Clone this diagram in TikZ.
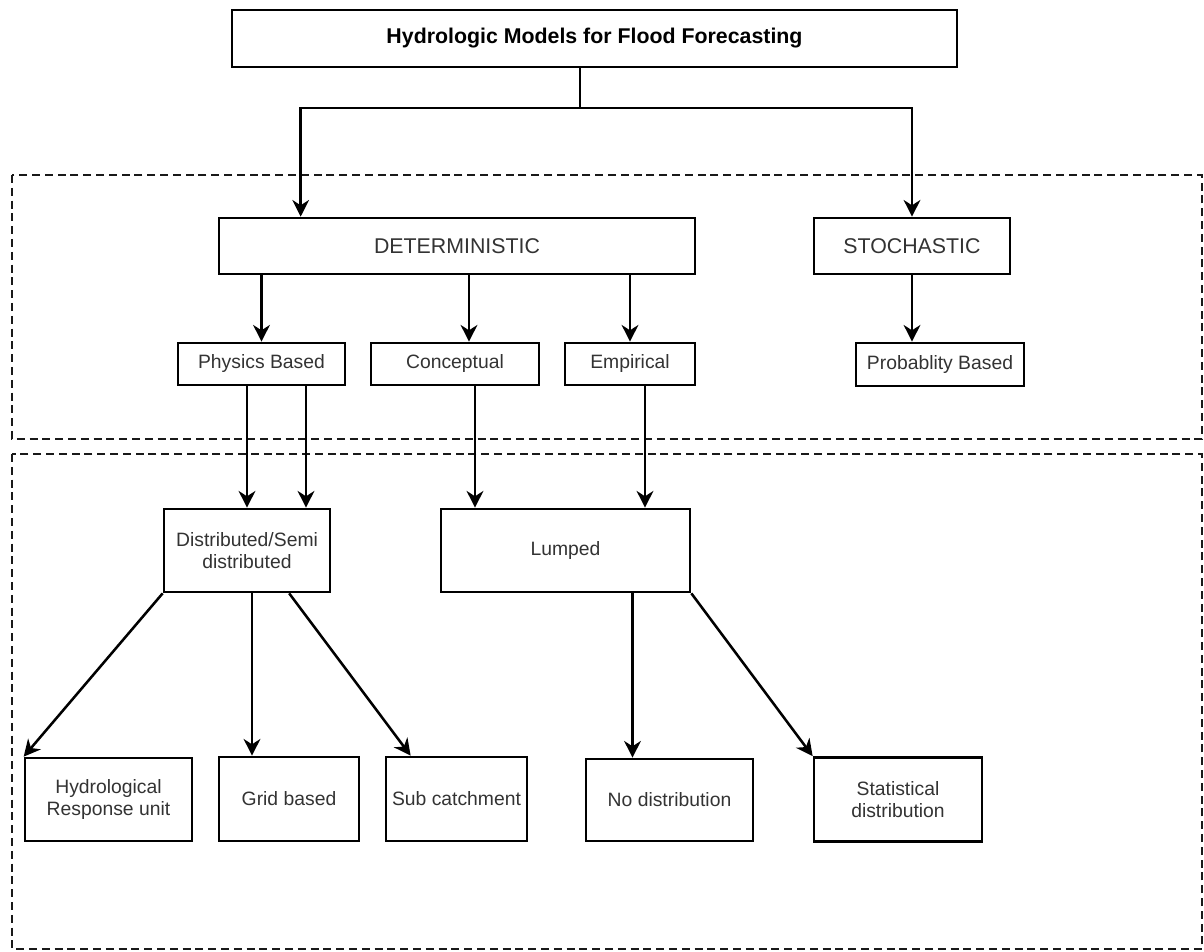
\documentclass[tikz,border=0pt]{standalone}
\usepackage{fontspec}
\setmainfont{Liberation Sans}
\usepackage{xcolor}
\usetikzlibrary{arrows.meta, calc, positioning}
\definecolor{txtgray}{HTML}{333333}

\tikzset{
  box/.style={draw, line width=2pt, fill=white, text=txtgray, align=center,
              inner sep=0pt, font=\fontsize{14.5}{17}\selectfont},
  wh/.style 2 args={minimum width=#1*0.75pt, minimum height=#2*0.75pt},
  arr/.style={-{Stealth[length=12.5pt,width=12.5pt,inset=4pt]}, line width=1.9pt},
  zone/.style={dash pattern=on 6pt off 3.6pt, line width=2pt, draw=black!90},
}

\begin{document}
\begin{tikzpicture}[x=0.75pt, y=-0.75pt]
\useasboundingbox (0,0) rectangle (1204,952);
%
\draw[zone] (12,175) rectangle (1202,439);
\draw[zone] (12,454) rectangle (1202,949);
%
\node[box, wh={725}{57}, text=black, font=\bfseries\fontsize{16}{19}\selectfont] (title) at (594.5,38.5) {Hydrologic Models for Flood Forecasting};
\node[box, wh={476}{56}, font=\fontsize{16}{19}\selectfont] (det) at (457,246) {DETERMINISTIC};
\node[box, wh={196}{56}, font=\fontsize{16}{19}\selectfont] (sto) at (912,246) {STOCHASTIC};
\node[box, wh={167}{42}] (phys) at (261.5,364) {Physics Based};
\node[box, wh={168}{42}] (concept) at (455,364) {Conceptual};
\node[box, wh={130}{42}] (emp) at (630,364) {Empirical};
\node[box, wh={168}{43}] (prob) at (940,364.5) {Probablity Based};
\node[box, wh={166}{83}] (dist) at (247,550.5) {Distributed/Semi\\distributed};
\node[box, wh={249}{83}] (lump) at (565.5,550.5) {Lumped};
\node[box, wh={167}{83}] (hru) at (108.5,799.5) {Hydrological\\Response unit};
\node[box, wh={140}{84}] (grid) at (289,799) {Grid based};
\node[box, wh={141}{84}] (sub) at (456.5,799) {Sub catchment};
\node[box, wh={167}{82}] (nodist) at (669.5,800) {No distribution};
\node[box, wh={168}{84}] (stat) at (898,799.5) {Statistical\\distribution};
%
\coordinate (split) at (580,108);
\coordinate (c1) at ($(concept.south)+(20,0)$);
\coordinate (e1) at ($(emp.south)+(15,0)$);
\coordinate (p1) at ($(phys.south -| dist.north)+(59,0)$);
\coordinate (l1) at ($(lump.south)+(67,0)$);
\coordinate (d1) at ($(dist.south)+(5,0)$);
%
\draw[arr] (title.south -| split) -- (split) -| ($(det.north west)+(83,0)$);
\draw[arr] (split) -| (sto.north);
\draw[arr] (det.south -| phys.north) -- (phys.north);
\draw[arr] ($(det.south -| concept.north)+(14,0)$) -- ($(concept.north)+(14,0)$);
\draw[arr] (det.south -| emp.north) -- (emp.north);
\draw[arr] (sto.south) -- (sto.south |- prob.north);
%
\draw[arr] (phys.south -| dist.north) -- (dist.north);
\draw[arr] (p1) -- (p1 |- dist.north);
\draw[arr] (c1) -- (c1 |- lump.north);
\draw[arr] (e1) -- (e1 |- lump.north);
%
\draw[arr] (dist.south west) -- (hru.north west);
\draw[arr] (d1) -- (d1 |- grid.north);
\draw[arr] ($(dist.south west)!0.75!(dist.south east)$) -- ($(sub.north west)+(26,0)$);
\draw[arr] (l1) -- (l1 |- nodist.north);
\draw[arr] (lump.south east) -- (stat.north west);
\end{tikzpicture}
\end{document}
